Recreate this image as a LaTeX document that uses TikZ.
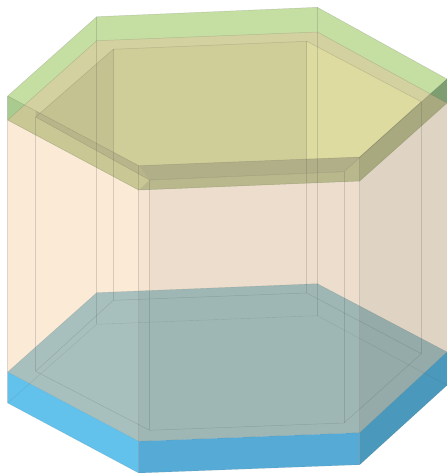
\documentclass[tikz,border=0pt]{standalone}
\usepackage{xcolor}
\definecolor{platetop}{HTML}{C5DFA3}
\definecolor{plateunder}{HTML}{D3D19F}
\definecolor{innermid}{HTML}{CFCE98}
\definecolor{innerleft}{HTML}{C4C290}
\definecolor{innerright}{HTML}{DEDBA0}
\definecolor{stripleft}{HTML}{C9C794}
\definecolor{stripfront}{HTML}{B9B78C}
\definecolor{bandleft}{HTML}{B8B58A}
\definecolor{bandfront}{HTML}{B1AF87}
\definecolor{bandright}{HTML}{A9A97F}
\definecolor{cornerleft}{HTML}{A9CB8F}
\definecolor{cornerright}{HTML}{7E9E72}
\definecolor{wallleft}{HTML}{FBEAD6}
\definecolor{wallstrip}{HTML}{F4E4D1}
\definecolor{wallfront}{HTML}{EDDDCC}
\definecolor{wallright}{HTML}{DFD3C3}
\definecolor{baseleft}{HTML}{A8C0BD}
\definecolor{basemid}{HTML}{9EB7B5}
\definecolor{baseright}{HTML}{94ABA9}
\definecolor{sideleft}{HTML}{62C2EC}
\definecolor{sidefront}{HTML}{56ABD6}
\definecolor{sideright}{HTML}{4A98BC}
\tikzset{
  edge/.style={black!70, line width=0.5pt, opacity=0.2},
  faint/.style={black!70, line width=0.4pt, opacity=0.16},
}
\begin{document}
\begin{tikzpicture}[x=1pt,y=-1pt]
\useasboundingbox (0,0) rectangle (447,474);
% top plate, upper hexagon
\coordinate (uL) at (7.7,96);
\coordinate (uBL) at (96.7,16.7);
\coordinate (uBR) at (317.3,7.3);
\coordinate (uR) at (447,79);
\coordinate (uFR) at (359.7,157);
\coordinate (uF) at (138.7,165.7);
% top plate, lower hexagon
\coordinate (lL) at (7.7,120);
\coordinate (lBL) at (96.7,40.7);
\coordinate (lBR) at (317.3,32);
\coordinate (lR) at (447,103);
\coordinate (lFR) at (359.7,181);
\coordinate (lF) at (138.7,190);
% inner hexagon, top
\coordinate (iL) at (35.7,117);
\coordinate (iBL) at (113.3,49.3);
\coordinate (iBR) at (306.7,41.3);
\coordinate (iR) at (421.3,101.7);
\coordinate (iFR) at (344,171.7);
\coordinate (iF) at (149.7,180);
% inner hexagon, bottom
\coordinate (jL) at (35.7,371.3);
\coordinate (jBL) at (113.3,300.3);
\coordinate (jBR) at (306.7,293);
\coordinate (jR) at (421.3,353.7);
\coordinate (jFR) at (344,423);
\coordinate (jF) at (149.7,430.3);
% base plate, upper hexagon
\coordinate (bL) at (7.7,372);
\coordinate (bBL) at (96.7,292.7);
\coordinate (bBR) at (317.3,283.7);
\coordinate (bR) at (447,352);
\coordinate (bFR) at (359.7,432.7);
\coordinate (bF) at (138.7,441.3);
% base plate, lower hexagon
\coordinate (cL) at (7.7,403);
\coordinate (cBL) at (96.7,324.3);
\coordinate (cBR) at (317.3,315.7);
\coordinate (cR) at (447,385.3);
\coordinate (cFR) at (359.7,464.7);
\coordinate (cF) at (138.7,473);

% walls
\fill[wallleft] (lL) -- (lF) -- (bF) -- (bL) -- cycle;
\fill[wallfront] (lF) -- (lFR) -- (bFR) -- (bF) -- cycle;
\fill[wallstrip] (lF) -- (149.7,189.6) -- (149.7,441) -- (bF) -- cycle;
\fill[wallright] (lFR) -- (lR) -- (bR) -- (bFR) -- cycle;

% base plate
\fill[baseleft] (bL) -- (bBL) -- (138.7,291) -- (bF) -- cycle;
\fill[basemid] (138.7,291) -- (bBR) -- (359.7,306) -- (bFR) -- (bF) -- cycle;
\fill[baseright] (359.7,306) -- (bR) -- (bFR) -- cycle;
\fill[sideleft] (bL) -- (bF) -- (cF) -- (cL) -- cycle;
\fill[sidefront] (bF) -- (bFR) -- (cFR) -- (cF) -- cycle;
\fill[sideright] (bFR) -- (bR) -- (cR) -- (cFR) -- cycle;

% top plate
\fill[platetop] (uL) -- (uBL) -- (uBR) -- (uR) -- (lR) -- (lFR) -- (lF) -- (lL) -- cycle;
\fill[plateunder] (lL) -- (lBL) -- (lBR) -- (lR) -- (lFR) -- (lF) -- cycle;
\fill[innermid] (iL) -- (iBL) -- (iBR) -- (iR) -- (iFR) -- (iF) -- cycle;
\fill[innerleft] (iL) -- (iBL) -- (113.3,160) -- cycle;
\fill[innerright] (iBR) -- (iR) -- (iFR) -- (306.7,173) -- cycle;
\fill[stripleft] (24.6,105) -- (lL) -- (lF) -- (iF) -- (uF) -- cycle;
\fill[stripfront] (lF) -- (lFR) -- (uFR) -- (iFR) -- (iF) -- cycle;
\fill[bandleft] (35.7,110.9) -- (uF) -- (iF) -- (iL) -- cycle;
\fill[bandfront] (uF) -- (uFR) -- (iFR) -- (iF) -- cycle;
\fill[bandright] (uFR) -- (430.3,93.9) -- (lR) -- (lFR) -- cycle;
\fill[cornerleft] (uL) -- (24.6,105) -- (lL) -- cycle;
\fill[cornerright] (uR) -- (430.3,93.9) -- (lR) -- cycle;

% hexagon outlines
\draw[edge] (uL) -- (uBL) -- (uBR) -- (uR);
\draw[edge] (uL) -- (uF) -- (uFR) -- (uR);
\draw[edge] (lL) -- (lBL) -- (lBR) -- (lR) -- (lFR) -- (lF) -- cycle;
\draw[edge] (iL) -- (iBL) -- (iBR) -- (iR) -- (iFR) -- (iF) -- cycle;
\draw[edge] (jL) -- (jBL) -- (jBR) -- (jR) -- (jFR) -- (jF) -- cycle;
\draw[faint] (bL) -- (bBL) -- (bBR) -- (bR) -- (bFR) -- (bF) -- cycle;
\draw[faint] (cL) -- (cBL) -- (cBR) -- (cR);
\draw[faint] (cL) -- (cF) -- (cFR) -- (cR);

% vertical edges
\draw[edge] (uL) -- (cL);
\draw[edge] (uBL) -- (cBL);
\draw[edge] (uBR) -- (cBR);
\draw[edge] (uFR) -- (cFR);
\draw[edge] (uF) -- (cF);
\draw[edge] (iL) -- (jL);
\draw[edge] (iBL) -- (jBL);
\draw[edge] (iBR) -- (jBR);
\draw[edge] (iR) -- (jR);
\draw[edge] (iFR) -- (jFR);
\draw[edge] (iF) -- (jF);
\end{tikzpicture}
\end{document}
